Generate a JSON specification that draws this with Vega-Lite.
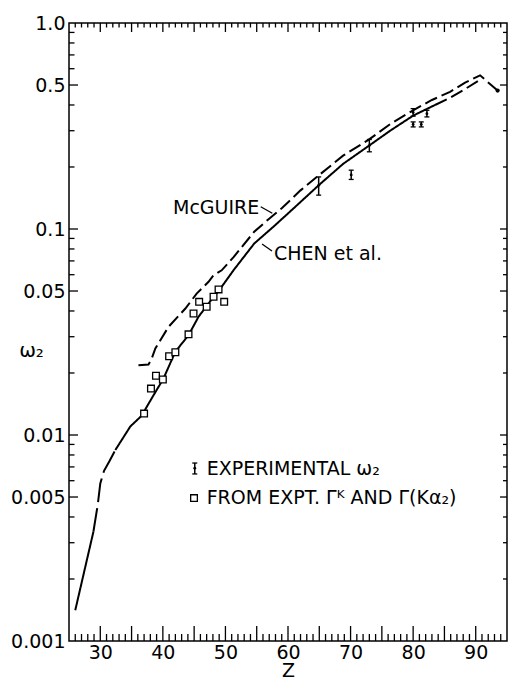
{
  "$schema": "https://vega.github.io/schema/vega-lite/v6.json",
  "width": 438,
  "height": 618,
  "autosize": {"type": "none"},
  "padding": {"left": 69, "top": 23, "right": 1, "bottom": 38},
  "background": "white",
  "config": {
    "view": {"stroke": "black", "strokeWidth": 1.5},
    "axis": {
      "grid": false,
      "domain": false,
      "labelColor": "black",
      "labelFont": "DejaVu Sans",
      "labelFontSize": 19,
      "titleFont": "DejaVu Sans",
      "titleColor": "black",
      "titleFontWeight": "normal",
      "labelOverlap": false,
      "labelFlush": false
    }
  },
  "datasets": {
    "curves": [
      {"line": "McGUIRE", "segment": "M", "Z": 36.1, "omega": 0.0218},
      {"line": "McGUIRE", "segment": "M", "Z": 37.7, "omega": 0.0220},
      {"line": "McGUIRE", "segment": "M", "Z": 38.2, "omega": 0.0234},
      {"line": "McGUIRE", "segment": "M", "Z": 38.8, "omega": 0.0263},
      {"line": "McGUIRE", "segment": "M", "Z": 40.9, "omega": 0.0335},
      {"line": "McGUIRE", "segment": "M", "Z": 43.6, "omega": 0.0411},
      {"line": "McGUIRE", "segment": "M", "Z": 45.4, "omega": 0.0486},
      {"line": "McGUIRE", "segment": "M", "Z": 47.3, "omega": 0.0554},
      {"line": "McGUIRE", "segment": "M", "Z": 48.1, "omega": 0.0597},
      {"line": "McGUIRE", "segment": "M", "Z": 49.4, "omega": 0.0630},
      {"line": "McGUIRE", "segment": "M", "Z": 51.3, "omega": 0.0730},
      {"line": "McGUIRE", "segment": "M", "Z": 54.6, "omega": 0.0970},
      {"line": "McGUIRE", "segment": "M", "Z": 56.8, "omega": 0.111},
      {"line": "McGUIRE", "segment": "M", "Z": 59.0, "omega": 0.126},
      {"line": "McGUIRE", "segment": "M", "Z": 62.0, "omega": 0.154},
      {"line": "McGUIRE", "segment": "M", "Z": 64.9, "omega": 0.182},
      {"line": "McGUIRE", "segment": "M", "Z": 68.8, "omega": 0.227},
      {"line": "McGUIRE", "segment": "M", "Z": 72.8, "omega": 0.270},
      {"line": "McGUIRE", "segment": "M", "Z": 76.4, "omega": 0.324},
      {"line": "McGUIRE", "segment": "M", "Z": 80.0, "omega": 0.377},
      {"line": "McGUIRE", "segment": "M", "Z": 83.0, "omega": 0.423},
      {"line": "McGUIRE", "segment": "M", "Z": 85.9, "omega": 0.463},
      {"line": "McGUIRE", "segment": "M", "Z": 88.3, "omega": 0.513},
      {"line": "McGUIRE", "segment": "M", "Z": 90.7, "omega": 0.557},
      {"line": "McGUIRE", "segment": "M", "Z": 93.5, "omega": 0.470},
      {"line": "CHEN et al.", "segment": "C1", "Z": 26.0, "omega": 0.00141},
      {"line": "CHEN et al.", "segment": "C1", "Z": 28.9, "omega": 0.00339},
      {"line": "CHEN et al. (interpolated)", "segment": "C2", "Z": 28.9, "omega": 0.00339},
      {"line": "CHEN et al. (interpolated)", "segment": "C2", "Z": 29.6, "omega": 0.00460},
      {"line": "CHEN et al. (interpolated)", "segment": "C2", "Z": 30.0, "omega": 0.00582},
      {"line": "CHEN et al. (interpolated)", "segment": "C2", "Z": 30.6, "omega": 0.00670},
      {"line": "CHEN et al. (interpolated)", "segment": "C2", "Z": 31.5, "omega": 0.00750},
      {"line": "CHEN et al. (interpolated)", "segment": "C2", "Z": 32.4, "omega": 0.00845},
      {"line": "CHEN et al.", "segment": "C3", "Z": 32.4, "omega": 0.00845},
      {"line": "CHEN et al.", "segment": "C3", "Z": 34.8, "omega": 0.0110},
      {"line": "CHEN et al.", "segment": "C3", "Z": 36.6, "omega": 0.0124},
      {"line": "CHEN et al.", "segment": "C3", "Z": 38.4, "omega": 0.0154},
      {"line": "CHEN et al.", "segment": "C3", "Z": 40.1, "omega": 0.0188},
      {"line": "CHEN et al.", "segment": "C3", "Z": 42.0, "omega": 0.0254},
      {"line": "CHEN et al.", "segment": "C3", "Z": 44.1, "omega": 0.0305},
      {"line": "CHEN et al.", "segment": "C3", "Z": 45.7, "omega": 0.0375},
      {"line": "CHEN et al.", "segment": "C3", "Z": 47.3, "omega": 0.0435},
      {"line": "CHEN et al.", "segment": "C3", "Z": 49.2, "omega": 0.0514},
      {"line": "CHEN et al.", "segment": "C3", "Z": 51.3, "omega": 0.0631},
      {"line": "CHEN et al.", "segment": "C3", "Z": 54.6, "omega": 0.085},
      {"line": "CHEN et al.", "segment": "C3", "Z": 57.8, "omega": 0.1034},
      {"line": "CHEN et al.", "segment": "C3", "Z": 60.9, "omega": 0.126},
      {"line": "CHEN et al.", "segment": "C3", "Z": 64.9, "omega": 0.163},
      {"line": "CHEN et al.", "segment": "C3", "Z": 68.8, "omega": 0.207},
      {"line": "CHEN et al.", "segment": "C3", "Z": 72.8, "omega": 0.252},
      {"line": "CHEN et al.", "segment": "C3", "Z": 76.4, "omega": 0.301},
      {"line": "CHEN et al.", "segment": "C3", "Z": 80.0, "omega": 0.355},
      {"line": "CHEN et al.", "segment": "C3", "Z": 83.5, "omega": 0.400},
      {"line": "CHEN et al. (extrapolated)", "segment": "C4", "Z": 83.5, "omega": 0.400},
      {"line": "CHEN et al. (extrapolated)", "segment": "C4", "Z": 85.9, "omega": 0.434},
      {"line": "CHEN et al. (extrapolated)", "segment": "C4", "Z": 88.3, "omega": 0.478},
      {"line": "CHEN et al. (extrapolated)", "segment": "C4", "Z": 90.7, "omega": 0.530}
    ],
    "endDot": [
      {"Z": 93.5, "omega": 0.470}
    ],
    "squares": [
      {"Z": 37.0, "omega": 0.0127, "role": "data"},
      {"Z": 38.1, "omega": 0.0168, "role": "data"},
      {"Z": 38.9, "omega": 0.0194, "role": "data"},
      {"Z": 40.0, "omega": 0.0186, "role": "data"},
      {"Z": 41.0, "omega": 0.0241, "role": "data"},
      {"Z": 42.0, "omega": 0.0252, "role": "data"},
      {"Z": 44.1, "omega": 0.0308, "role": "data"},
      {"Z": 44.9, "omega": 0.0389, "role": "data"},
      {"Z": 45.8, "omega": 0.0443, "role": "data"},
      {"Z": 47.0, "omega": 0.0419, "role": "data"},
      {"Z": 48.1, "omega": 0.0469, "role": "data"},
      {"Z": 48.9, "omega": 0.0509, "role": "data"},
      {"Z": 49.8, "omega": 0.0443, "role": "data"},
      {"Z": 44.98, "omega": 0.00494, "role": "legend key"}
    ],
    "experimental": [
      {"Z": 64.9, "omega": 0.163, "lo": 0.146, "hi": 0.179, "role": "data"},
      {"Z": 70.1, "omega": 0.183, "lo": 0.174, "hi": 0.193, "role": "data"},
      {"Z": 73.0, "omega": 0.254, "lo": 0.237, "hi": 0.272, "role": "data"},
      {"Z": 80.0, "omega": 0.368, "lo": 0.353, "hi": 0.384, "role": "data"},
      {"Z": 80.0, "omega": 0.322, "lo": 0.313, "hi": 0.331, "role": "data"},
      {"Z": 81.3, "omega": 0.322, "lo": 0.313, "hi": 0.331, "role": "data"},
      {"Z": 82.2, "omega": 0.363, "lo": 0.350, "hi": 0.377, "role": "data"},
      {"Z": 45.1, "omega": 0.0069, "lo": 0.00647, "hi": 0.00731, "role": "legend key"}
    ],
    "labels": [
      {"label": "McGUIRE", "Z": 41.62, "omega": 0.1264},
      {"label": "CHEN et al.", "Z": 57.76, "omega": 0.0756},
      {"label": "EXPERIMENTAL ω₂", "Z": 47.0, "omega": 0.00684},
      {"label": "FROM EXPT. Γᴷ AND Γ(Kα₂)", "Z": 47.0, "omega": 0.00494}
    ],
    "leaders": [
      {"curve": "McGUIRE", "Z1": 55.64, "w1": 0.1283, "Z2": 57.49, "w2": 0.1192},
      {"curve": "CHEN et al.", "Z1": 55.85, "w1": 0.0846, "Z2": 57.44, "w2": 0.0782}
    ],
    "zMajor": [
      {"Z": 30}, {"Z": 35}, {"Z": 40}, {"Z": 45}, {"Z": 50}, {"Z": 55}, {"Z": 60},
      {"Z": 65}, {"Z": 70}, {"Z": 75}, {"Z": 80}, {"Z": 85}, {"Z": 90}
    ],
    "zMinor": [
      {"Z": 26}, {"Z": 27}, {"Z": 28}, {"Z": 29}, {"Z": 31}, {"Z": 32}, {"Z": 33}, {"Z": 34},
      {"Z": 36}, {"Z": 37}, {"Z": 38}, {"Z": 39}, {"Z": 41}, {"Z": 42}, {"Z": 43}, {"Z": 44},
      {"Z": 46}, {"Z": 47}, {"Z": 48}, {"Z": 49}, {"Z": 51}, {"Z": 52}, {"Z": 53}, {"Z": 54},
      {"Z": 56}, {"Z": 57}, {"Z": 58}, {"Z": 59}, {"Z": 61}, {"Z": 62}, {"Z": 63}, {"Z": 64},
      {"Z": 66}, {"Z": 67}, {"Z": 68}, {"Z": 69}, {"Z": 71}, {"Z": 72}, {"Z": 73}, {"Z": 74},
      {"Z": 76}, {"Z": 77}, {"Z": 78}, {"Z": 79}, {"Z": 81}, {"Z": 82}, {"Z": 83}, {"Z": 84},
      {"Z": 86}, {"Z": 87}, {"Z": 88}, {"Z": 89}, {"Z": 91}, {"Z": 92}, {"Z": 93}, {"Z": 94}
    ],
    "wMajor": [
      {"omega": 0.005}, {"omega": 0.01}, {"omega": 0.05}, {"omega": 0.1}, {"omega": 0.5}
    ],
    "wMinor": [
      {"omega": 0.002}, {"omega": 0.003}, {"omega": 0.004}, {"omega": 0.006}, {"omega": 0.007},
      {"omega": 0.008}, {"omega": 0.009}, {"omega": 0.02}, {"omega": 0.03}, {"omega": 0.04},
      {"omega": 0.06}, {"omega": 0.07}, {"omega": 0.08}, {"omega": 0.09}, {"omega": 0.2},
      {"omega": 0.3}, {"omega": 0.4}, {"omega": 0.6}, {"omega": 0.7}, {"omega": 0.8}, {"omega": 0.9}
    ]
  },
  "layer": [
    {
      "data": {"name": "curves"},
      "mark": {"type": "line", "color": "black", "strokeWidth": 2},
      "encoding": {
        "x": {
          "field": "Z", "type": "quantitative",
          "scale": {"domain": [25, 95], "nice": false, "zero": false},
          "axis": {
            "orient": "bottom",
            "values": [30,40,50,60,70,80,90],
            "ticks": false,
            "labelPadding": 2,
            "title": "Z",
            "titleFontSize": 19,
            "titleY": 35,
            "titleBaseline": "alphabetic"
          }
        },
        "y": {
          "field": "omega", "type": "quantitative",
          "scale": {"type": "log", "domain": [0.001, 1], "nice": false},
          "axis": {
            "orient": "left",
            "values": [0.001,0.005,0.01,0.05,0.1,0.5,1],
            "labelExpr": "datum.value == 1 ? '1.0' : toString(datum.value)",
            "ticks": false,
            "labelPadding": 4,
            "labelBaseline": "middle",
            "title": "ω₂",
            "titleAngle": 0,
            "titleX": -38,
            "titleY": 327,
            "titleAlign": "center",
            "titleBaseline": "middle",
            "titleFontSize": 20
          }
        },
        "detail": {"field": "segment", "type": "nominal"},
        "strokeDash": {
          "field": "line", "type": "nominal",
          "scale": {
            "domain": ["McGUIRE", "CHEN et al.", "CHEN et al. (interpolated)", "CHEN et al. (extrapolated)"],
            "range": [[13, 5], [1, 0], [24, 6], [13, 5]]
          },
          "legend": null
        }
      }
    },
    {
      "data": {"name": "zMajor"},
      "mark": {"type": "tick", "orient": "vertical", "size": 15, "thickness": 1.3, "color": "black", "opacity": 1, "yOffset": -7.5},
      "encoding": {
        "x": {"field": "Z", "type": "quantitative", "axis": null},
        "y": {"datum": 0.001, "type": "quantitative", "axis": null}
      }
    },
    {
      "data": {"name": "zMinor"},
      "mark": {"type": "tick", "orient": "vertical", "size": 7, "thickness": 1.3, "color": "black", "opacity": 1, "yOffset": -3.5},
      "encoding": {
        "x": {"field": "Z", "type": "quantitative", "axis": null},
        "y": {"datum": 0.001, "type": "quantitative", "axis": null}
      }
    },
    {
      "data": {"name": "zMajor"},
      "mark": {"type": "tick", "orient": "vertical", "size": 9, "thickness": 1.3, "color": "black", "opacity": 1, "yOffset": 4.5},
      "encoding": {
        "x": {"field": "Z", "type": "quantitative", "axis": null},
        "y": {"datum": 1, "type": "quantitative", "axis": null}
      }
    },
    {
      "data": {"name": "zMinor"},
      "mark": {"type": "tick", "orient": "vertical", "size": 4.5, "thickness": 1.3, "color": "black", "opacity": 1, "yOffset": 2.25},
      "encoding": {
        "x": {"field": "Z", "type": "quantitative", "axis": null},
        "y": {"datum": 1, "type": "quantitative", "axis": null}
      }
    },
    {
      "data": {"name": "wMajor"},
      "mark": {"type": "tick", "orient": "horizontal", "size": 9, "thickness": 1.3, "color": "black", "opacity": 1, "xOffset": 4.5},
      "encoding": {
        "y": {"field": "omega", "type": "quantitative", "axis": null},
        "x": {"datum": 25, "type": "quantitative", "axis": null}
      }
    },
    {
      "data": {"name": "wMinor"},
      "mark": {"type": "tick", "orient": "horizontal", "size": 5.5, "thickness": 1.3, "color": "black", "opacity": 1, "xOffset": 2.75},
      "encoding": {
        "y": {"field": "omega", "type": "quantitative", "axis": null},
        "x": {"datum": 25, "type": "quantitative", "axis": null}
      }
    },
    {
      "data": {"name": "wMajor"},
      "mark": {"type": "tick", "orient": "horizontal", "size": 7, "thickness": 1.3, "color": "black", "opacity": 1, "xOffset": -3.5},
      "encoding": {
        "y": {"field": "omega", "type": "quantitative", "axis": null},
        "x": {"datum": 95, "type": "quantitative", "axis": null}
      }
    },
    {
      "data": {"name": "wMinor"},
      "mark": {"type": "tick", "orient": "horizontal", "size": 4, "thickness": 1.3, "color": "black", "opacity": 1, "xOffset": -2},
      "encoding": {
        "y": {"field": "omega", "type": "quantitative", "axis": null},
        "x": {"datum": 95, "type": "quantitative", "axis": null}
      }
    },
    {
      "data": {"name": "squares"},
      "mark": {"type": "point", "shape": "square", "size": 45, "filled": true, "fill": "white", "stroke": "black", "strokeWidth": 1.3, "opacity": 1},
      "encoding": {
        "x": {"field": "Z", "type": "quantitative", "axis": null},
        "y": {"field": "omega", "type": "quantitative", "axis": null}
      }
    },
    {
      "data": {"name": "experimental"},
      "mark": {"type": "rule", "color": "black", "strokeWidth": 1.5},
      "encoding": {
        "x": {"field": "Z", "type": "quantitative", "axis": null},
        "y": {"field": "lo", "type": "quantitative", "axis": null},
        "y2": {"field": "hi"}
      }
    },
    {
      "data": {"name": "experimental"},
      "mark": {"type": "tick", "orient": "horizontal", "size": 5, "thickness": 1.3, "color": "black", "opacity": 1},
      "encoding": {
        "x": {"field": "Z", "type": "quantitative", "axis": null},
        "y": {"field": "lo", "type": "quantitative", "axis": null}
      }
    },
    {
      "data": {"name": "experimental"},
      "mark": {"type": "tick", "orient": "horizontal", "size": 5, "thickness": 1.3, "color": "black", "opacity": 1},
      "encoding": {
        "x": {"field": "Z", "type": "quantitative", "axis": null},
        "y": {"field": "hi", "type": "quantitative", "axis": null}
      }
    },
    {
      "data": {"name": "experimental"},
      "mark": {"type": "point", "shape": "circle", "filled": true, "size": 8, "color": "black", "opacity": 1},
      "encoding": {
        "x": {"field": "Z", "type": "quantitative", "axis": null},
        "y": {"field": "omega", "type": "quantitative", "axis": null}
      }
    },
    {
      "data": {"name": "endDot"},
      "mark": {"type": "point", "shape": "circle", "filled": true, "size": 18, "color": "black", "opacity": 1},
      "encoding": {
        "x": {"field": "Z", "type": "quantitative", "axis": null},
        "y": {"field": "omega", "type": "quantitative", "axis": null}
      }
    },
    {
      "data": {"name": "leaders"},
      "mark": {"type": "rule", "color": "black", "strokeWidth": 1.3},
      "encoding": {
        "x": {"field": "Z1", "type": "quantitative", "axis": null},
        "y": {"field": "w1", "type": "quantitative", "axis": null},
        "x2": {"field": "Z2"},
        "y2": {"field": "w2"}
      }
    },
    {
      "data": {"name": "labels"},
      "mark": {"type": "text", "font": "DejaVu Sans", "fontSize": 19, "align": "left", "baseline": "middle", "color": "black"},
      "encoding": {
        "x": {"field": "Z", "type": "quantitative", "axis": null},
        "y": {"field": "omega", "type": "quantitative", "axis": null},
        "text": {"field": "label", "type": "nominal"}
      }
    }
  ],
  "resolve": {"axis": {"x": "independent", "y": "independent"}}
}
